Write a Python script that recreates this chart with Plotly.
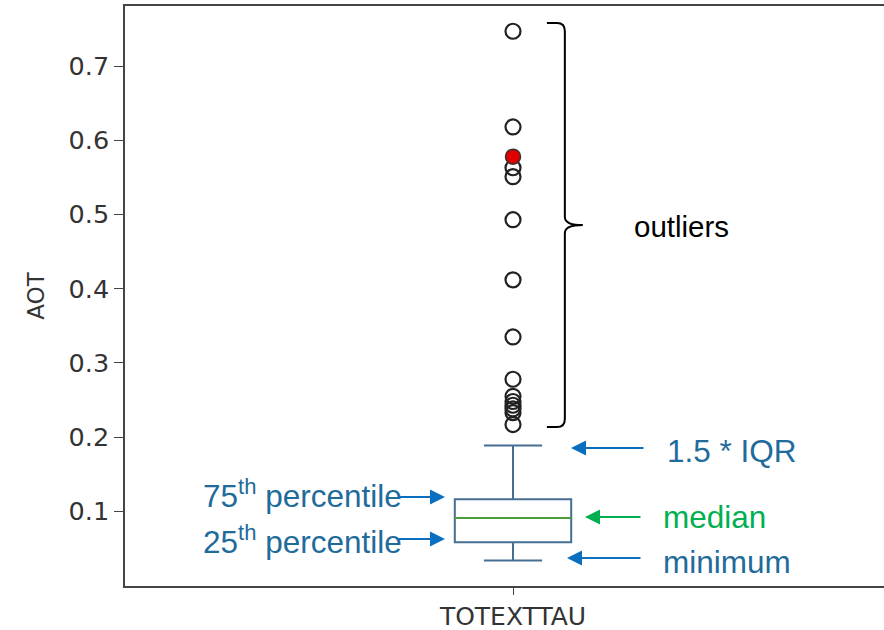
import plotly.graph_objects as go

# ---- data ----
category = ["TOTEXTTAU"]
q1 = 0.0585
median = 0.091
q3 = 0.1162
lower_whisker = 0.0338
upper_whisker = 0.1888
outliers = [0.747, 0.618, 0.563, 0.551, 0.493, 0.412, 0.335, 0.278,
            0.255, 0.248, 0.243, 0.238, 0.233, 0.217]
highlight = [0.578]
y_ticks = [0.1, 0.2, 0.3, 0.4, 0.5, 0.6, 0.7]

W, H = 884, 630
L, R, T, B = 125, 884, 6, 586     # plot-area pixel box
XR = [0.5, 0.5 + (R - L) / 776.0]
YR = [-0.0006, 0.781]
BOXW = 0.15

def px(xp):
    return (xp - L) / (R - L)

def py(yp):
    return (B - yp) / (B - T)

fig = go.Figure()

fig.add_trace(go.Box(
    x=[1], q1=[q1], median=[median], q3=[q3],
    lowerfence=[lower_whisker], upperfence=[upper_whisker],
    width=BOXW, whiskerwidth=0.5, boxpoints=False,
    fillcolor="rgba(255,255,255,0)",
    line=dict(color="#456f93", width=2), showlegend=False, hoverinfo="skip"))

fig.add_trace(go.Scatter(
    x=[1 - BOXW / 2, 1 + BOXW / 2], y=[median, median], mode="lines",
    line=dict(color="#4e9c3a", width=2), showlegend=False))

fig.add_trace(go.Scatter(
    x=[1] * len(outliers), y=outliers, mode="markers",
    marker=dict(symbol="circle", size=15, color="rgba(255,255,255,0)",
                line=dict(color="#222222", width=2.2)), showlegend=False))

fig.add_trace(go.Scatter(
    x=[1] * len(highlight), y=highlight, mode="markers",
    marker=dict(symbol="circle", size=15, color="#e00000",
                line=dict(color="#333333", width=1.5)), showlegend=False))

# ---- curly brace around outliers ----
ytop = max(outliers) + 0.011
ybot = min(outliers) - 0.0035
ymid = (ytop + ybot) / 2
x0, x1, x2 = 1.0437, 1.0668, 1.090
rx, ry = 0.010, 0.011
path = (f"M {x0},{ytop} L {x1-rx},{ytop} Q {x1},{ytop} {x1},{ytop-ry} "
        f"L {x1},{ymid+ry} Q {x1},{ymid} {x2},{ymid} Q {x1},{ymid} {x1},{ymid-ry} "
        f"L {x1},{ybot+ry} Q {x1},{ybot} {x1-rx},{ybot} L {x0},{ybot}")
fig.add_shape(type="path", path=path, xref="x", yref="y",
              line=dict(color="black", width=2))

FONT = "Liberation Sans, Arial, sans-serif"
BLUE_T = "#1f6b9b"
BLUE_A = "#0a6fbf"
GREEN = "#00b050"

ann = []
def label(text, xp, yp, color, size=31.5):
    ann.append(dict(text=text, x=px(xp), y=py(yp), xref="paper", yref="paper",
                    xanchor="left", yanchor="middle", showarrow=False,
                    font=dict(family=FONT, size=size, color=color)))

def arrow(hx, hy, tx, color):
    ann.append(dict(text="", x=px(hx), y=py(hy), xref="paper", yref="paper",
                    ax=tx - hx, ay=0, showarrow=True, arrowhead=2,
                    arrowsize=1.5, arrowwidth=2, arrowcolor=color))

label("outliers", 632, 226, "black", 29.5)
label("1.5 * IQR", 665, 451, BLUE_T)
label("median", 661, 517, GREEN)
label("minimum", 661, 562, BLUE_T)
label("75<sup>th</sup> percentile", 201, 494, BLUE_T)
label("25<sup>th</sup> percentile", 201, 540, BLUE_T)

arrow(571, 448, 645, BLUE_A)
arrow(585, 517, 642, GREEN)
arrow(567, 558, 642, BLUE_A)
arrow(445, 497, 397, BLUE_A)
arrow(445, 539, 397, BLUE_A)

fig.update_layout(
    width=W, height=H, margin=dict(l=L, r=W - R, t=T, b=H - B),
    plot_bgcolor="white", paper_bgcolor="white", annotations=ann,
    font=dict(family="DejaVu Sans", color="#333333"),
    xaxis=dict(range=XR, tickvals=[1], ticktext=category, showgrid=False,
               zeroline=False, showline=True, mirror=True, linecolor="#444444",
               linewidth=1.5, ticks="outside", ticklen=7, tickcolor="#444444",
               tickfont=dict(size=25, color="#333333")),
    yaxis=dict(range=YR, tickvals=y_ticks, showgrid=False, zeroline=False,
               showline=True, linecolor="#444444", linewidth=1.5,
               ticks="outside", ticklen=9, tickcolor="#444444",
               tickformat=".1f", tickfont=dict(size=25.5, color="#333333"),
               title=dict(text="AOT", font=dict(size=23, color="#333333"),
                          standoff=18)),
)

fig.write_html("out.html", config={"displayModeBar": False},
               post_script="document.body.style.margin='0px';")
